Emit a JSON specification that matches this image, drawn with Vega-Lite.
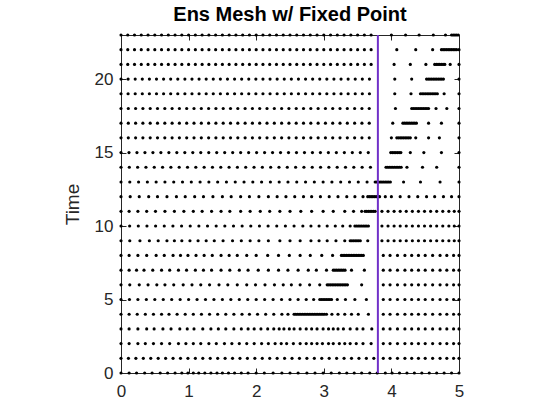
{
"$schema": "https://vega.github.io/schema/vega-lite/v6.json",
"width": 338, "height": 338,
"autosize": {"type": "none"},
"padding": {"left": 121, "top": 35, "right": 101, "bottom": 47},
"title": {"text": "Ens Mesh w/ Fixed Point", "font": "Liberation Sans", "fontSize": 20, "fontWeight": "bold", "color": "#000000", "anchor": "middle", "offset": 8},
"config": {
  "view": {"stroke": null},
  "axis": {"grid": false, "labelFlush": false, "domainColor": "#262626", "tickColor": "#262626", "labelColor": "#262626", "titleColor": "#262626", "labelFont": "Liberation Sans", "titleFont": "Liberation Sans", "labelFontSize": 17, "titleFontSize": 19, "titleFontWeight": "normal", "tickSize": -5, "domainWidth": 1, "tickWidth": 1}
},
"resolve": {"axis": {"x": "independent", "y": "independent"}},
"layer": [
{
"data": {"values": [
{"t":23,"x":0},{"t":23,"x":0.1},{"t":23,"x":0.2},{"t":23,"x":0.3},{"t":23,"x":0.4},{"t":23,"x":0.5},{"t":23,"x":0.6},{"t":23,"x":0.7},{"t":23,"x":0.8},{"t":23,"x":0.9},{"t":23,"x":1},{"t":23,"x":1.1},{"t":23,"x":1.2},{"t":23,"x":1.3},{"t":23,"x":1.4},{"t":23,"x":1.5},{"t":23,"x":1.6},{"t":23,"x":1.7},{"t":23,"x":1.8},{"t":23,"x":1.9},{"t":23,"x":2},{"t":23,"x":2.1},{"t":23,"x":2.2},{"t":23,"x":2.3},{"t":23,"x":2.4},{"t":23,"x":2.5},{"t":23,"x":2.6},{"t":23,"x":2.7},{"t":23,"x":2.8},{"t":23,"x":2.9},{"t":23,"x":3},{"t":23,"x":3.1},{"t":23,"x":3.2},{"t":23,"x":3.3},{"t":23,"x":3.4},{"t":23,"x":3.5},{"t":23,"x":3.6},{"t":23,"x":3.7},{"t":23,"x":4},{"t":23,"x":4.21},{"t":23,"x":4.41},{"t":23,"x":4.62},{"t":23,"x":4.8},{"t":23,"x":4.89},{"t":23,"x":4.915},{"t":23,"x":4.94},{"t":23,"x":4.965},{"t":23,"x":4.99},
{"t":22,"x":0},{"t":22,"x":0.1},{"t":22,"x":0.2},{"t":22,"x":0.3},{"t":22,"x":0.4},{"t":22,"x":0.5},{"t":22,"x":0.6},{"t":22,"x":0.7},{"t":22,"x":0.8},{"t":22,"x":0.9},{"t":22,"x":1},{"t":22,"x":1.1},{"t":22,"x":1.2},{"t":22,"x":1.3},{"t":22,"x":1.4},{"t":22,"x":1.5},{"t":22,"x":1.6},{"t":22,"x":1.7},{"t":22,"x":1.8},{"t":22,"x":1.9},{"t":22,"x":2},{"t":22,"x":2.1},{"t":22,"x":2.2},{"t":22,"x":2.3},{"t":22,"x":2.4},{"t":22,"x":2.5},{"t":22,"x":2.6},{"t":22,"x":2.7},{"t":22,"x":2.8},{"t":22,"x":2.9},{"t":22,"x":3},{"t":22,"x":3.1},{"t":22,"x":3.2},{"t":22,"x":3.3},{"t":22,"x":3.4},{"t":22,"x":3.5},{"t":22,"x":3.6},{"t":22,"x":3.7},{"t":22,"x":4.08},{"t":22,"x":4.36},{"t":22,"x":4.61},{"t":22,"x":4.74},{"t":22,"x":4.765},{"t":22,"x":4.79},{"t":22,"x":4.815},{"t":22,"x":4.84},{"t":22,"x":4.865},{"t":22,"x":4.89},{"t":22,"x":4.915},{"t":22,"x":4.94},{"t":22,"x":4.965},{"t":22,"x":5},
{"t":21,"x":0},{"t":21,"x":0.1},{"t":21,"x":0.2},{"t":21,"x":0.3},{"t":21,"x":0.4},{"t":21,"x":0.5},{"t":21,"x":0.6},{"t":21,"x":0.7},{"t":21,"x":0.8},{"t":21,"x":0.9},{"t":21,"x":1},{"t":21,"x":1.1},{"t":21,"x":1.2},{"t":21,"x":1.3},{"t":21,"x":1.4},{"t":21,"x":1.5},{"t":21,"x":1.6},{"t":21,"x":1.7},{"t":21,"x":1.8},{"t":21,"x":1.9},{"t":21,"x":2},{"t":21,"x":2.1},{"t":21,"x":2.2},{"t":21,"x":2.3},{"t":21,"x":2.4},{"t":21,"x":2.5},{"t":21,"x":2.6},{"t":21,"x":2.7},{"t":21,"x":2.8},{"t":21,"x":2.9},{"t":21,"x":3},{"t":21,"x":3.1},{"t":21,"x":3.2},{"t":21,"x":3.3},{"t":21,"x":3.4},{"t":21,"x":3.5},{"t":21,"x":3.6},{"t":21,"x":3.7},{"t":21,"x":4.04},{"t":21,"x":4.28},{"t":21,"x":4.51},{"t":21,"x":4.64},{"t":21,"x":4.665},{"t":21,"x":4.69},{"t":21,"x":4.715},{"t":21,"x":4.74},{"t":21,"x":4.765},{"t":21,"x":4.79},{"t":21,"x":4.87},{"t":21,"x":5},
{"t":20,"x":0},{"t":20,"x":0.105},{"t":20,"x":0.21},{"t":20,"x":0.315},{"t":20,"x":0.42},{"t":20,"x":0.525},{"t":20,"x":0.63},{"t":20,"x":0.735},{"t":20,"x":0.84},{"t":20,"x":0.945},{"t":20,"x":1.05},{"t":20,"x":1.155},{"t":20,"x":1.26},{"t":20,"x":1.365},{"t":20,"x":1.47},{"t":20,"x":1.575},{"t":20,"x":1.68},{"t":20,"x":1.785},{"t":20,"x":1.89},{"t":20,"x":1.995},{"t":20,"x":2.1},{"t":20,"x":2.205},{"t":20,"x":2.31},{"t":20,"x":2.415},{"t":20,"x":2.52},{"t":20,"x":2.625},{"t":20,"x":2.73},{"t":20,"x":2.835},{"t":20,"x":2.94},{"t":20,"x":3.045},{"t":20,"x":3.15},{"t":20,"x":3.255},{"t":20,"x":3.36},{"t":20,"x":3.465},{"t":20,"x":3.57},{"t":20,"x":3.675},{"t":20,"x":4.05},{"t":20,"x":4.3},{"t":20,"x":4.52},{"t":20,"x":4.545},{"t":20,"x":4.57},{"t":20,"x":4.595},{"t":20,"x":4.62},{"t":20,"x":4.645},{"t":20,"x":4.67},{"t":20,"x":4.695},{"t":20,"x":4.72},{"t":20,"x":4.745},{"t":20,"x":4.77},{"t":20,"x":5},
{"t":19,"x":0},{"t":19,"x":0.105},{"t":19,"x":0.21},{"t":19,"x":0.315},{"t":19,"x":0.42},{"t":19,"x":0.525},{"t":19,"x":0.63},{"t":19,"x":0.735},{"t":19,"x":0.84},{"t":19,"x":0.945},{"t":19,"x":1.05},{"t":19,"x":1.155},{"t":19,"x":1.26},{"t":19,"x":1.365},{"t":19,"x":1.47},{"t":19,"x":1.575},{"t":19,"x":1.68},{"t":19,"x":1.785},{"t":19,"x":1.89},{"t":19,"x":1.995},{"t":19,"x":2.1},{"t":19,"x":2.205},{"t":19,"x":2.31},{"t":19,"x":2.415},{"t":19,"x":2.52},{"t":19,"x":2.625},{"t":19,"x":2.73},{"t":19,"x":2.835},{"t":19,"x":2.94},{"t":19,"x":3.045},{"t":19,"x":3.15},{"t":19,"x":3.255},{"t":19,"x":3.36},{"t":19,"x":3.465},{"t":19,"x":3.57},{"t":19,"x":3.675},{"t":19,"x":4.05},{"t":19,"x":4.29},{"t":19,"x":4.43},{"t":19,"x":4.455},{"t":19,"x":4.48},{"t":19,"x":4.505},{"t":19,"x":4.53},{"t":19,"x":4.555},{"t":19,"x":4.58},{"t":19,"x":4.605},{"t":19,"x":4.63},{"t":19,"x":4.655},{"t":19,"x":4.68},{"t":19,"x":4.78},{"t":19,"x":5},
{"t":18,"x":0},{"t":18,"x":0.108},{"t":18,"x":0.216},{"t":18,"x":0.324},{"t":18,"x":0.432},{"t":18,"x":0.54},{"t":18,"x":0.648},{"t":18,"x":0.756},{"t":18,"x":0.864},{"t":18,"x":0.972},{"t":18,"x":1.08},{"t":18,"x":1.188},{"t":18,"x":1.296},{"t":18,"x":1.404},{"t":18,"x":1.512},{"t":18,"x":1.62},{"t":18,"x":1.728},{"t":18,"x":1.836},{"t":18,"x":1.944},{"t":18,"x":2.052},{"t":18,"x":2.16},{"t":18,"x":2.268},{"t":18,"x":2.376},{"t":18,"x":2.484},{"t":18,"x":2.592},{"t":18,"x":2.7},{"t":18,"x":2.808},{"t":18,"x":2.916},{"t":18,"x":3.024},{"t":18,"x":3.132},{"t":18,"x":3.24},{"t":18,"x":3.348},{"t":18,"x":3.456},{"t":18,"x":3.564},{"t":18,"x":3.672},{"t":18,"x":4.06},{"t":18,"x":4.3},{"t":18,"x":4.325},{"t":18,"x":4.35},{"t":18,"x":4.375},{"t":18,"x":4.4},{"t":18,"x":4.425},{"t":18,"x":4.45},{"t":18,"x":4.475},{"t":18,"x":4.5},{"t":18,"x":4.525},{"t":18,"x":4.55},{"t":18,"x":4.66},{"t":18,"x":4.82},{"t":18,"x":5},
{"t":17,"x":0},{"t":17,"x":0.108},{"t":17,"x":0.216},{"t":17,"x":0.324},{"t":17,"x":0.432},{"t":17,"x":0.54},{"t":17,"x":0.648},{"t":17,"x":0.756},{"t":17,"x":0.864},{"t":17,"x":0.972},{"t":17,"x":1.08},{"t":17,"x":1.188},{"t":17,"x":1.296},{"t":17,"x":1.404},{"t":17,"x":1.512},{"t":17,"x":1.62},{"t":17,"x":1.728},{"t":17,"x":1.836},{"t":17,"x":1.944},{"t":17,"x":2.052},{"t":17,"x":2.16},{"t":17,"x":2.268},{"t":17,"x":2.376},{"t":17,"x":2.484},{"t":17,"x":2.592},{"t":17,"x":2.7},{"t":17,"x":2.808},{"t":17,"x":2.916},{"t":17,"x":3.024},{"t":17,"x":3.132},{"t":17,"x":3.24},{"t":17,"x":3.348},{"t":17,"x":3.456},{"t":17,"x":3.564},{"t":17,"x":3.672},{"t":17,"x":4.02},{"t":17,"x":4.17},{"t":17,"x":4.195},{"t":17,"x":4.22},{"t":17,"x":4.245},{"t":17,"x":4.27},{"t":17,"x":4.295},{"t":17,"x":4.32},{"t":17,"x":4.345},{"t":17,"x":4.37},{"t":17,"x":4.55},{"t":17,"x":4.74},{"t":17,"x":5},
{"t":16,"x":0},{"t":16,"x":0.108},{"t":16,"x":0.216},{"t":16,"x":0.324},{"t":16,"x":0.432},{"t":16,"x":0.54},{"t":16,"x":0.648},{"t":16,"x":0.756},{"t":16,"x":0.864},{"t":16,"x":0.972},{"t":16,"x":1.08},{"t":16,"x":1.188},{"t":16,"x":1.296},{"t":16,"x":1.404},{"t":16,"x":1.512},{"t":16,"x":1.62},{"t":16,"x":1.728},{"t":16,"x":1.836},{"t":16,"x":1.944},{"t":16,"x":2.052},{"t":16,"x":2.16},{"t":16,"x":2.268},{"t":16,"x":2.376},{"t":16,"x":2.484},{"t":16,"x":2.592},{"t":16,"x":2.7},{"t":16,"x":2.808},{"t":16,"x":2.916},{"t":16,"x":3.024},{"t":16,"x":3.132},{"t":16,"x":3.24},{"t":16,"x":3.348},{"t":16,"x":3.456},{"t":16,"x":3.564},{"t":16,"x":3.672},{"t":16,"x":4},{"t":16,"x":4.08},{"t":16,"x":4.105},{"t":16,"x":4.13},{"t":16,"x":4.155},{"t":16,"x":4.18},{"t":16,"x":4.205},{"t":16,"x":4.23},{"t":16,"x":4.255},{"t":16,"x":4.28},{"t":16,"x":4.36},{"t":16,"x":4.55},{"t":16,"x":4.71},{"t":16,"x":5},
{"t":15,"x":0},{"t":15,"x":0.118},{"t":15,"x":0.236},{"t":15,"x":0.354},{"t":15,"x":0.472},{"t":15,"x":0.59},{"t":15,"x":0.708},{"t":15,"x":0.826},{"t":15,"x":0.944},{"t":15,"x":1.062},{"t":15,"x":1.18},{"t":15,"x":1.298},{"t":15,"x":1.416},{"t":15,"x":1.534},{"t":15,"x":1.652},{"t":15,"x":1.77},{"t":15,"x":1.888},{"t":15,"x":2.006},{"t":15,"x":2.124},{"t":15,"x":2.242},{"t":15,"x":2.36},{"t":15,"x":2.478},{"t":15,"x":2.596},{"t":15,"x":2.714},{"t":15,"x":2.832},{"t":15,"x":2.95},{"t":15,"x":3.068},{"t":15,"x":3.186},{"t":15,"x":3.304},{"t":15,"x":3.422},{"t":15,"x":3.54},{"t":15,"x":3.658},{"t":15,"x":3.99},{"t":15,"x":4.015},{"t":15,"x":4.04},{"t":15,"x":4.065},{"t":15,"x":4.09},{"t":15,"x":4.115},{"t":15,"x":4.14},{"t":15,"x":4.28},{"t":15,"x":4.48},{"t":15,"x":4.74},{"t":15,"x":5},
{"t":14,"x":0},{"t":14,"x":0.123},{"t":14,"x":0.246},{"t":14,"x":0.369},{"t":14,"x":0.492},{"t":14,"x":0.615},{"t":14,"x":0.738},{"t":14,"x":0.861},{"t":14,"x":0.984},{"t":14,"x":1.107},{"t":14,"x":1.23},{"t":14,"x":1.353},{"t":14,"x":1.476},{"t":14,"x":1.599},{"t":14,"x":1.722},{"t":14,"x":1.845},{"t":14,"x":1.968},{"t":14,"x":2.091},{"t":14,"x":2.214},{"t":14,"x":2.337},{"t":14,"x":2.46},{"t":14,"x":2.583},{"t":14,"x":2.706},{"t":14,"x":2.829},{"t":14,"x":2.952},{"t":14,"x":3.075},{"t":14,"x":3.198},{"t":14,"x":3.321},{"t":14,"x":3.444},{"t":14,"x":3.567},{"t":14,"x":3.69},{"t":14,"x":3.92},{"t":14,"x":3.945},{"t":14,"x":3.97},{"t":14,"x":3.995},{"t":14,"x":4.02},{"t":14,"x":4.045},{"t":14,"x":4.07},{"t":14,"x":4.095},{"t":14,"x":4.12},{"t":14,"x":4.145},{"t":14,"x":4.23},{"t":14,"x":4.46},{"t":14,"x":4.67},{"t":14,"x":5},
{"t":13,"x":0},{"t":13,"x":0.13},{"t":13,"x":0.26},{"t":13,"x":0.39},{"t":13,"x":0.52},{"t":13,"x":0.65},{"t":13,"x":0.78},{"t":13,"x":0.91},{"t":13,"x":1.04},{"t":13,"x":1.17},{"t":13,"x":1.3},{"t":13,"x":1.43},{"t":13,"x":1.56},{"t":13,"x":1.69},{"t":13,"x":1.82},{"t":13,"x":1.95},{"t":13,"x":2.08},{"t":13,"x":2.21},{"t":13,"x":2.34},{"t":13,"x":2.47},{"t":13,"x":2.6},{"t":13,"x":2.73},{"t":13,"x":2.86},{"t":13,"x":2.99},{"t":13,"x":3.12},{"t":13,"x":3.25},{"t":13,"x":3.38},{"t":13,"x":3.51},{"t":13,"x":3.64},{"t":13,"x":3.76},{"t":13,"x":3.785},{"t":13,"x":3.81},{"t":13,"x":3.835},{"t":13,"x":3.86},{"t":13,"x":3.885},{"t":13,"x":3.91},{"t":13,"x":3.935},{"t":13,"x":3.96},{"t":13,"x":3.985},{"t":13,"x":4.18},{"t":13,"x":4.43},{"t":13,"x":4.72},{"t":13,"x":5},
{"t":12,"x":0},{"t":12,"x":0.136},{"t":12,"x":0.27},{"t":12,"x":0.41},{"t":12,"x":0.54},{"t":12,"x":0.68},{"t":12,"x":0.82},{"t":12,"x":0.95},{"t":12,"x":1.09},{"t":12,"x":1.22},{"t":12,"x":1.36},{"t":12,"x":1.5},{"t":12,"x":1.63},{"t":12,"x":1.77},{"t":12,"x":1.9},{"t":12,"x":2.04},{"t":12,"x":2.18},{"t":12,"x":2.31},{"t":12,"x":2.44},{"t":12,"x":2.57},{"t":12,"x":2.7},{"t":12,"x":2.82},{"t":12,"x":2.95},{"t":12,"x":3.08},{"t":12,"x":3.21},{"t":12,"x":3.34},{"t":12,"x":3.46},{"t":12,"x":3.58},{"t":12,"x":3.65},{"t":12,"x":3.675},{"t":12,"x":3.7},{"t":12,"x":3.725},{"t":12,"x":3.75},{"t":12,"x":3.775},{"t":12,"x":3.8},{"t":12,"x":3.825},{"t":12,"x":3.91},{"t":12,"x":4},{"t":12,"x":4.13},{"t":12,"x":4.26},{"t":12,"x":4.39},{"t":12,"x":4.52},{"t":12,"x":4.64},{"t":12,"x":4.77},{"t":12,"x":4.89},{"t":12,"x":5},
{"t":11,"x":0},{"t":11,"x":0.12},{"t":11,"x":0.25},{"t":11,"x":0.38},{"t":11,"x":0.51},{"t":11,"x":0.65},{"t":11,"x":0.79},{"t":11,"x":0.93},{"t":11,"x":1.07},{"t":11,"x":1.2},{"t":11,"x":1.34},{"t":11,"x":1.48},{"t":11,"x":1.61},{"t":11,"x":1.77},{"t":11,"x":1.91},{"t":11,"x":2.06},{"t":11,"x":2.2},{"t":11,"x":2.35},{"t":11,"x":2.5},{"t":11,"x":2.66},{"t":11,"x":2.82},{"t":11,"x":2.99},{"t":11,"x":3.14},{"t":11,"x":3.31},{"t":11,"x":3.44},{"t":11,"x":3.56},{"t":11,"x":3.61},{"t":11,"x":3.635},{"t":11,"x":3.66},{"t":11,"x":3.685},{"t":11,"x":3.71},{"t":11,"x":3.735},{"t":11,"x":3.76},{"t":11,"x":3.86},{"t":11,"x":3.95},{"t":11,"x":4.04},{"t":11,"x":4.13},{"t":11,"x":4.22},{"t":11,"x":4.31},{"t":11,"x":4.4},{"t":11,"x":4.49},{"t":11,"x":4.58},{"t":11,"x":4.67},{"t":11,"x":4.76},{"t":11,"x":4.85},{"t":11,"x":4.93},{"t":11,"x":5},
{"t":10,"x":0},{"t":10,"x":0.128},{"t":10,"x":0.256},{"t":10,"x":0.384},{"t":10,"x":0.512},{"t":10,"x":0.64},{"t":10,"x":0.768},{"t":10,"x":0.896},{"t":10,"x":1.024},{"t":10,"x":1.152},{"t":10,"x":1.28},{"t":10,"x":1.408},{"t":10,"x":1.536},{"t":10,"x":1.664},{"t":10,"x":1.792},{"t":10,"x":1.92},{"t":10,"x":2.048},{"t":10,"x":2.176},{"t":10,"x":2.304},{"t":10,"x":2.432},{"t":10,"x":2.56},{"t":10,"x":2.69},{"t":10,"x":2.81},{"t":10,"x":2.93},{"t":10,"x":3.05},{"t":10,"x":3.17},{"t":10,"x":3.28},{"t":10,"x":3.39},{"t":10,"x":3.46},{"t":10,"x":3.485},{"t":10,"x":3.51},{"t":10,"x":3.535},{"t":10,"x":3.56},{"t":10,"x":3.585},{"t":10,"x":3.61},{"t":10,"x":3.635},{"t":10,"x":3.66},{"t":10,"x":3.86},{"t":10,"x":3.95},{"t":10,"x":4.04},{"t":10,"x":4.13},{"t":10,"x":4.22},{"t":10,"x":4.31},{"t":10,"x":4.4},{"t":10,"x":4.49},{"t":10,"x":4.58},{"t":10,"x":4.67},{"t":10,"x":4.76},{"t":10,"x":4.85},{"t":10,"x":4.93},{"t":10,"x":5},
{"t":9,"x":0},{"t":9,"x":0.13},{"t":9,"x":0.28},{"t":9,"x":0.42},{"t":9,"x":0.55},{"t":9,"x":0.68},{"t":9,"x":0.79},{"t":9,"x":0.9},{"t":9,"x":1.02},{"t":9,"x":1.14},{"t":9,"x":1.26},{"t":9,"x":1.38},{"t":9,"x":1.51},{"t":9,"x":1.65},{"t":9,"x":1.78},{"t":9,"x":1.91},{"t":9,"x":2.04},{"t":9,"x":2.18},{"t":9,"x":2.35},{"t":9,"x":2.5},{"t":9,"x":2.65},{"t":9,"x":2.81},{"t":9,"x":2.93},{"t":9,"x":3.05},{"t":9,"x":3.18},{"t":9,"x":3.31},{"t":9,"x":3.39},{"t":9,"x":3.415},{"t":9,"x":3.44},{"t":9,"x":3.465},{"t":9,"x":3.49},{"t":9,"x":3.515},{"t":9,"x":3.54},{"t":9,"x":3.65},{"t":9,"x":3.86},{"t":9,"x":3.95},{"t":9,"x":4.04},{"t":9,"x":4.13},{"t":9,"x":4.22},{"t":9,"x":4.31},{"t":9,"x":4.4},{"t":9,"x":4.49},{"t":9,"x":4.58},{"t":9,"x":4.67},{"t":9,"x":4.76},{"t":9,"x":4.85},{"t":9,"x":4.93},{"t":9,"x":5},
{"t":8,"x":0},{"t":8,"x":0.12},{"t":8,"x":0.25},{"t":8,"x":0.38},{"t":8,"x":0.52},{"t":8,"x":0.64},{"t":8,"x":0.77},{"t":8,"x":0.88},{"t":8,"x":0.99},{"t":8,"x":1.11},{"t":8,"x":1.23},{"t":8,"x":1.35},{"t":8,"x":1.48},{"t":8,"x":1.6},{"t":8,"x":1.72},{"t":8,"x":1.86},{"t":8,"x":2},{"t":8,"x":2.17},{"t":8,"x":2.33},{"t":8,"x":2.49},{"t":8,"x":2.65},{"t":8,"x":2.8},{"t":8,"x":2.97},{"t":8,"x":3.13},{"t":8,"x":3.26},{"t":8,"x":3.285},{"t":8,"x":3.31},{"t":8,"x":3.335},{"t":8,"x":3.36},{"t":8,"x":3.385},{"t":8,"x":3.41},{"t":8,"x":3.435},{"t":8,"x":3.46},{"t":8,"x":3.485},{"t":8,"x":3.51},{"t":8,"x":3.535},{"t":8,"x":3.56},{"t":8,"x":3.585},{"t":8,"x":3.88},{"t":8,"x":3.98},{"t":8,"x":4.09},{"t":8,"x":4.2},{"t":8,"x":4.3},{"t":8,"x":4.4},{"t":8,"x":4.5},{"t":8,"x":4.61},{"t":8,"x":4.72},{"t":8,"x":4.82},{"t":8,"x":4.92},{"t":8,"x":5},
{"t":7,"x":0},{"t":7,"x":0.12},{"t":7,"x":0.23},{"t":7,"x":0.34},{"t":7,"x":0.47},{"t":7,"x":0.6},{"t":7,"x":0.72},{"t":7,"x":0.85},{"t":7,"x":0.97},{"t":7,"x":1.1},{"t":7,"x":1.22},{"t":7,"x":1.34},{"t":7,"x":1.48},{"t":7,"x":1.61},{"t":7,"x":1.75},{"t":7,"x":1.88},{"t":7,"x":2.03},{"t":7,"x":2.18},{"t":7,"x":2.33},{"t":7,"x":2.47},{"t":7,"x":2.62},{"t":7,"x":2.77},{"t":7,"x":2.89},{"t":7,"x":3.04},{"t":7,"x":3.14},{"t":7,"x":3.165},{"t":7,"x":3.19},{"t":7,"x":3.215},{"t":7,"x":3.24},{"t":7,"x":3.265},{"t":7,"x":3.29},{"t":7,"x":3.315},{"t":7,"x":3.41},{"t":7,"x":3.6},{"t":7,"x":3.88},{"t":7,"x":3.98},{"t":7,"x":4.09},{"t":7,"x":4.2},{"t":7,"x":4.3},{"t":7,"x":4.4},{"t":7,"x":4.5},{"t":7,"x":4.61},{"t":7,"x":4.72},{"t":7,"x":4.82},{"t":7,"x":4.92},{"t":7,"x":5},
{"t":6,"x":0},{"t":6,"x":0.13},{"t":6,"x":0.27},{"t":6,"x":0.4},{"t":6,"x":0.53},{"t":6,"x":0.65},{"t":6,"x":0.78},{"t":6,"x":0.92},{"t":6,"x":1.05},{"t":6,"x":1.18},{"t":6,"x":1.31},{"t":6,"x":1.45},{"t":6,"x":1.58},{"t":6,"x":1.72},{"t":6,"x":1.86},{"t":6,"x":1.99},{"t":6,"x":2.13},{"t":6,"x":2.27},{"t":6,"x":2.4},{"t":6,"x":2.52},{"t":6,"x":2.65},{"t":6,"x":2.79},{"t":6,"x":2.94},{"t":6,"x":3.05},{"t":6,"x":3.075},{"t":6,"x":3.1},{"t":6,"x":3.125},{"t":6,"x":3.15},{"t":6,"x":3.175},{"t":6,"x":3.2},{"t":6,"x":3.225},{"t":6,"x":3.25},{"t":6,"x":3.275},{"t":6,"x":3.3},{"t":6,"x":3.325},{"t":6,"x":3.35},{"t":6,"x":3.56},{"t":6,"x":3.88},{"t":6,"x":3.98},{"t":6,"x":4.09},{"t":6,"x":4.2},{"t":6,"x":4.3},{"t":6,"x":4.4},{"t":6,"x":4.5},{"t":6,"x":4.61},{"t":6,"x":4.72},{"t":6,"x":4.82},{"t":6,"x":4.92},{"t":6,"x":5},
{"t":5,"x":0},{"t":5,"x":0.125},{"t":5,"x":0.25},{"t":5,"x":0.375},{"t":5,"x":0.5},{"t":5,"x":0.625},{"t":5,"x":0.75},{"t":5,"x":0.875},{"t":5,"x":1},{"t":5,"x":1.125},{"t":5,"x":1.25},{"t":5,"x":1.375},{"t":5,"x":1.5},{"t":5,"x":1.625},{"t":5,"x":1.75},{"t":5,"x":1.875},{"t":5,"x":2},{"t":5,"x":2.125},{"t":5,"x":2.25},{"t":5,"x":2.375},{"t":5,"x":2.5},{"t":5,"x":2.62},{"t":5,"x":2.74},{"t":5,"x":2.85},{"t":5,"x":2.94},{"t":5,"x":2.965},{"t":5,"x":2.99},{"t":5,"x":3.015},{"t":5,"x":3.04},{"t":5,"x":3.065},{"t":5,"x":3.09},{"t":5,"x":3.115},{"t":5,"x":3.2},{"t":5,"x":3.32},{"t":5,"x":3.46},{"t":5,"x":3.63},{"t":5,"x":3.88},{"t":5,"x":3.98},{"t":5,"x":4.09},{"t":5,"x":4.2},{"t":5,"x":4.3},{"t":5,"x":4.4},{"t":5,"x":4.5},{"t":5,"x":4.61},{"t":5,"x":4.72},{"t":5,"x":4.82},{"t":5,"x":4.92},{"t":5,"x":5},
{"t":4,"x":0},{"t":4,"x":0.12},{"t":4,"x":0.24},{"t":4,"x":0.36},{"t":4,"x":0.48},{"t":4,"x":0.6},{"t":4,"x":0.71},{"t":4,"x":0.83},{"t":4,"x":0.95},{"t":4,"x":1.07},{"t":4,"x":1.19},{"t":4,"x":1.31},{"t":4,"x":1.43},{"t":4,"x":1.55},{"t":4,"x":1.67},{"t":4,"x":1.79},{"t":4,"x":1.9},{"t":4,"x":2.02},{"t":4,"x":2.14},{"t":4,"x":2.26},{"t":4,"x":2.38},{"t":4,"x":2.47},{"t":4,"x":2.56},{"t":4,"x":2.585},{"t":4,"x":2.61},{"t":4,"x":2.635},{"t":4,"x":2.66},{"t":4,"x":2.685},{"t":4,"x":2.71},{"t":4,"x":2.735},{"t":4,"x":2.76},{"t":4,"x":2.785},{"t":4,"x":2.81},{"t":4,"x":2.835},{"t":4,"x":2.86},{"t":4,"x":2.885},{"t":4,"x":2.91},{"t":4,"x":2.935},{"t":4,"x":2.96},{"t":4,"x":2.985},{"t":4,"x":3.01},{"t":4,"x":3.04},{"t":4,"x":3.12},{"t":4,"x":3.21},{"t":4,"x":3.31},{"t":4,"x":3.41},{"t":4,"x":3.51},{"t":4,"x":3.66},{"t":4,"x":3.88},{"t":4,"x":3.98},{"t":4,"x":4.09},{"t":4,"x":4.2},{"t":4,"x":4.3},{"t":4,"x":4.4},{"t":4,"x":4.5},{"t":4,"x":4.61},{"t":4,"x":4.72},{"t":4,"x":4.82},{"t":4,"x":4.92},{"t":4,"x":5},
{"t":3,"x":0},{"t":3,"x":0.12},{"t":3,"x":0.25},{"t":3,"x":0.38},{"t":3,"x":0.49},{"t":3,"x":0.62},{"t":3,"x":0.74},{"t":3,"x":0.87},{"t":3,"x":0.98},{"t":3,"x":1.08},{"t":3,"x":1.21},{"t":3,"x":1.33},{"t":3,"x":1.44},{"t":3,"x":1.55},{"t":3,"x":1.67},{"t":3,"x":1.78},{"t":3,"x":1.88},{"t":3,"x":1.97},{"t":3,"x":2.07},{"t":3,"x":2.17},{"t":3,"x":2.26},{"t":3,"x":2.34},{"t":3,"x":2.41},{"t":3,"x":2.49},{"t":3,"x":2.56},{"t":3,"x":2.65},{"t":3,"x":2.74},{"t":3,"x":2.82},{"t":3,"x":2.9},{"t":3,"x":2.99},{"t":3,"x":3.07},{"t":3,"x":3.14},{"t":3,"x":3.21},{"t":3,"x":3.29},{"t":3,"x":3.39},{"t":3,"x":3.49},{"t":3,"x":3.58},{"t":3,"x":3.71},{"t":3,"x":3.88},{"t":3,"x":3.98},{"t":3,"x":4.09},{"t":3,"x":4.2},{"t":3,"x":4.3},{"t":3,"x":4.4},{"t":3,"x":4.5},{"t":3,"x":4.61},{"t":3,"x":4.72},{"t":3,"x":4.82},{"t":3,"x":4.92},{"t":3,"x":5},
{"t":2,"x":0},{"t":2,"x":0.12},{"t":2,"x":0.25},{"t":2,"x":0.36},{"t":2,"x":0.48},{"t":2,"x":0.6},{"t":2,"x":0.72},{"t":2,"x":0.85},{"t":2,"x":0.96},{"t":2,"x":1.07},{"t":2,"x":1.18},{"t":2,"x":1.3},{"t":2,"x":1.41},{"t":2,"x":1.53},{"t":2,"x":1.64},{"t":2,"x":1.75},{"t":2,"x":1.86},{"t":2,"x":1.97},{"t":2,"x":2.08},{"t":2,"x":2.18},{"t":2,"x":2.28},{"t":2,"x":2.37},{"t":2,"x":2.45},{"t":2,"x":2.55},{"t":2,"x":2.65},{"t":2,"x":2.74},{"t":2,"x":2.82},{"t":2,"x":2.9},{"t":2,"x":2.98},{"t":2,"x":3.07},{"t":2,"x":3.14},{"t":2,"x":3.23},{"t":2,"x":3.31},{"t":2,"x":3.39},{"t":2,"x":3.48},{"t":2,"x":3.58},{"t":2,"x":3.7},{"t":2,"x":3.88},{"t":2,"x":3.98},{"t":2,"x":4.09},{"t":2,"x":4.2},{"t":2,"x":4.3},{"t":2,"x":4.4},{"t":2,"x":4.5},{"t":2,"x":4.61},{"t":2,"x":4.72},{"t":2,"x":4.82},{"t":2,"x":4.92},{"t":2,"x":5},
{"t":1,"x":0},{"t":1,"x":0.11},{"t":1,"x":0.22},{"t":1,"x":0.33},{"t":1,"x":0.44},{"t":1,"x":0.55},{"t":1,"x":0.66},{"t":1,"x":0.77},{"t":1,"x":0.88},{"t":1,"x":0.99},{"t":1,"x":1.1},{"t":1,"x":1.21},{"t":1,"x":1.32},{"t":1,"x":1.43},{"t":1,"x":1.54},{"t":1,"x":1.65},{"t":1,"x":1.76},{"t":1,"x":1.87},{"t":1,"x":1.98},{"t":1,"x":2.09},{"t":1,"x":2.2},{"t":1,"x":2.31},{"t":1,"x":2.42},{"t":1,"x":2.53},{"t":1,"x":2.64},{"t":1,"x":2.75},{"t":1,"x":2.86},{"t":1,"x":2.97},{"t":1,"x":3.08},{"t":1,"x":3.19},{"t":1,"x":3.3},{"t":1,"x":3.41},{"t":1,"x":3.52},{"t":1,"x":3.63},{"t":1,"x":3.74},{"t":1,"x":3.88},{"t":1,"x":3.98},{"t":1,"x":4.09},{"t":1,"x":4.2},{"t":1,"x":4.3},{"t":1,"x":4.4},{"t":1,"x":4.5},{"t":1,"x":4.61},{"t":1,"x":4.72},{"t":1,"x":4.82},{"t":1,"x":4.92},{"t":1,"x":5},
{"t":0,"x":0},{"t":0,"x":0.12},{"t":0,"x":0.23},{"t":0,"x":0.35},{"t":0,"x":0.46},{"t":0,"x":0.58},{"t":0,"x":0.69},{"t":0,"x":0.8},{"t":0,"x":0.9},{"t":0,"x":0.99},{"t":0,"x":1.07},{"t":0,"x":1.15},{"t":0,"x":1.24},{"t":0,"x":1.33},{"t":0,"x":1.42},{"t":0,"x":1.5},{"t":0,"x":1.59},{"t":0,"x":1.68},{"t":0,"x":1.78},{"t":0,"x":1.88},{"t":0,"x":2},{"t":0,"x":2.12},{"t":0,"x":2.25},{"t":0,"x":2.38},{"t":0,"x":2.5},{"t":0,"x":2.62},{"t":0,"x":2.75},{"t":0,"x":2.87},{"t":0,"x":2.99},{"t":0,"x":3.11},{"t":0,"x":3.23},{"t":0,"x":3.34},{"t":0,"x":3.45},{"t":0,"x":3.56},{"t":0,"x":3.68},{"t":0,"x":3.79},{"t":0,"x":3.91},{"t":0,"x":4.01},{"t":0,"x":4.12},{"t":0,"x":4.23},{"t":0,"x":4.34},{"t":0,"x":4.45},{"t":0,"x":4.56},{"t":0,"x":4.67},{"t":0,"x":4.78},{"t":0,"x":4.89},{"t":0,"x":5}
]},
"mark": {"type": "circle", "size": 10, "color": "#000000", "opacity": 1},
"encoding": {
  "x": {"field": "x", "type": "quantitative", "scale": {"domain": [0, 5], "nice": false, "zero": false}, "axis": {"orient": "bottom", "values": [0, 1, 2, 3, 4, 5], "title": null, "labelPadding": 15, "labelAngle": 0}},
  "y": {"field": "t", "type": "quantitative", "scale": {"domain": [0, 23], "nice": false, "zero": false}, "axis": {"orient": "left", "values": [0, 5, 10, 15, 20], "title": "Time", "labelPadding": 13, "titlePadding": 12}}
}
},
{
"data": {"values": [{"x": 3.8}]},
"mark": {"type": "rule", "color": "#7030c8", "strokeWidth": 2},
"encoding": {
  "x": {"field": "x", "type": "quantitative", "axis": {"orient": "top", "values": [0, 1, 2, 3, 4, 5], "labels": false, "title": null}}
}
},
{
"data": {"values": [{"x": 0, "t": 0}]},
"mark": {"type": "point", "opacity": 0},
"encoding": {
  "x": {"field": "x", "type": "quantitative", "axis": null},
  "y": {"field": "t", "type": "quantitative", "axis": {"orient": "right", "values": [0, 5, 10, 15, 20], "labels": false, "title": null}}
}
}
]
}
